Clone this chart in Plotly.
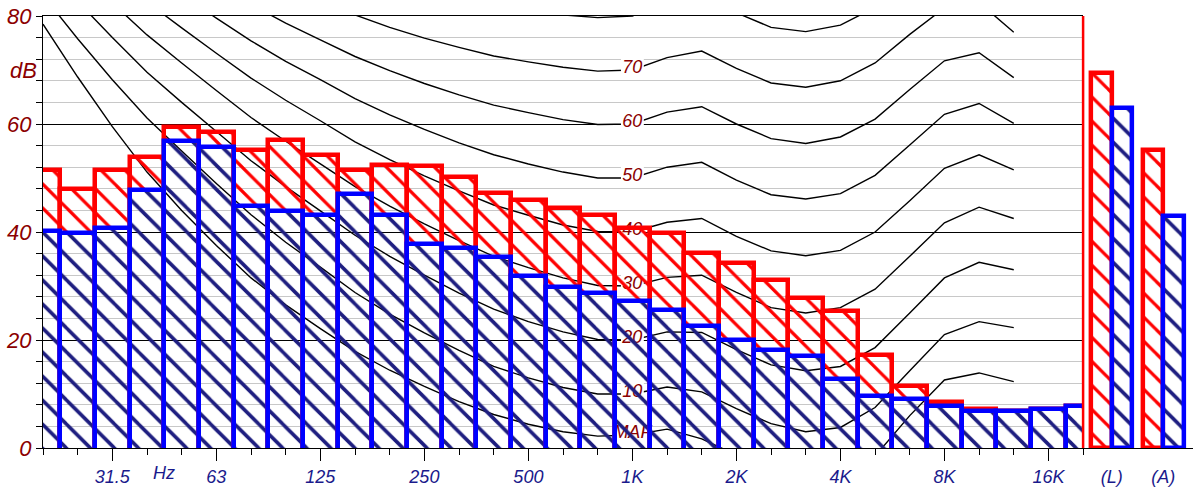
import plotly.graph_objects as go

# ---------------- data ----------------
band_freqs = ["20", "25", "31.5", "40", "50", "63", "80", "100", "125", "160", "200", "250",
              "315", "400", "500", "630", "800", "1K", "1.25K", "1.6K", "2K", "2.5K", "3.15K",
              "4K", "5K", "6.3K", "8K", "10K", "12.5K", "16K", "20K"]
red_db = [51.5, 47.9, 51.5, 53.9, 59.5, 58.5, 55.2, 57.0, 54.2, 51.5, 52.4, 52.2, 50.2, 47.3,
          45.9, 44.4, 43.2, 40.8, 39.9, 36.1, 34.2, 31.2, 27.8, 25.3, 17.3, 11.4, 8.6, 7.2,
          6.9, 7.2, 7.8]
blue_db = [40.1, 39.8, 40.8, 47.7, 56.9, 55.7, 44.8, 43.9, 43.2, 47.0, 43.2, 37.8, 37.0, 35.4,
           31.8, 29.9, 28.7, 27.2, 25.5, 22.6, 20.0, 18.2, 17.1, 12.7, 9.7, 9.0, 7.7, 6.9,
           6.9, 7.2, 7.8]
total_labels = ["(L)", "(A)"]
red_total = [69.4, 55.2]
blue_total = [63.0, 42.9]
tick_labels = ["31.5", "63", "125", "250", "500", "1K", "2K", "4K", "8K", "16K"]

# equal-loudness contours, 20 Hz .. 12.5 kHz (first 29 bands)
maf = [78.5, 68.7, 59.5, 51.1, 44.0, 37.5, 31.5, 26.5, 22.1, 17.9, 14.4, 11.4, 8.6, 6.2, 4.4,
       3.0, 2.2, 2.4, 3.5, 1.7, -1.3, -4.2, -6.0, -5.4, -1.5, 6.0, 12.6, 13.9, 12.3]
phon10 = [83.8, 75.8, 68.2, 61.1, 55.0, 49.0, 43.2, 38.1, 33.5, 28.8, 24.8, 21.3, 18.1, 15.1,
          13.0, 11.2, 10.0, 10.0, 11.3, 10.4, 7.3, 4.5, 3.0, 3.8, 7.5, 14.3, 21.0, 23.4, 22.3]
phon20 = [89.6, 82.7, 76.0, 69.6, 64.0, 58.6, 53.2, 48.4, 43.9, 39.4, 35.5, 32.0, 28.7, 25.7,
          23.4, 21.5, 20.1, 20.0, 21.5, 21.4, 18.2, 15.4, 14.3, 15.1, 18.6, 25.0, 31.5, 34.4, 33.0]
phon30 = [94.8, 88.5, 82.4, 76.5, 71.3, 66.2, 61.2, 56.8, 52.6, 48.4, 44.8, 41.5, 38.4, 35.5,
          33.4, 31.5, 30.1, 30.0, 31.6, 32.0, 28.8, 26.0, 25.0, 26.0, 29.4, 35.5, 41.7, 44.6, 42.5]
phon40 = [99.9, 93.9, 88.2, 82.6, 77.8, 73.1, 68.5, 64.4, 60.6, 56.7, 53.4, 50.4, 47.6, 45.0,
          43.1, 41.3, 40.1, 40.0, 41.8, 42.5, 39.2, 36.5, 35.6, 36.6, 40.0, 45.8, 51.8, 54.3, 51.5]
phon50 = [104.7, 99.1, 93.7, 88.5, 84.0, 79.6, 75.4, 71.6, 68.2, 64.7, 61.7, 59.0, 56.5, 54.3,
          52.6, 51.1, 50.0, 50.0, 52.0, 52.9, 49.6, 46.9, 46.1, 47.1, 50.5, 56.1, 61.8, 63.8, 60.1]
phon60 = [109.5, 104.2, 99.1, 94.2, 90.0, 85.9, 82.1, 78.7, 75.6, 72.5, 69.9, 67.5, 65.4, 63.5,
          62.1, 60.8, 59.9, 60.0, 62.2, 63.2, 60.0, 57.3, 56.4, 57.6, 60.9, 66.4, 71.7, 73.2, 68.6]
phon70 = [114.3, 109.2, 104.4, 99.8, 95.9, 92.2, 88.6, 85.6, 82.9, 80.2, 77.9, 75.9, 74.2, 72.6,
          71.5, 70.5, 69.8, 70.0, 72.3, 73.5, 70.3, 67.6, 66.8, 68.0, 71.3, 76.6, 81.5, 82.5, 77.0]
phon80 = [119.0, 114.2, 109.6, 105.3, 101.7, 98.4, 95.2, 92.5, 90.1, 87.8, 85.9, 84.3, 82.9, 81.7,
          80.9, 80.2, 79.7, 80.0, 82.5, 83.7, 80.6, 77.9, 77.1, 78.3, 81.6, 86.8, 91.4, 91.7, 85.4]
contours = [maf, phon10, phon20, phon30, phon40, phon50, phon60, phon70, phon80]
contour_labels = ["MAF", "10", "20", "30", "40", "50", "60", "70", ""]

# ---------------- styles ----------------
RED = "#FF0000"
BLUE = "#0000FF"
NAVY_HATCH = "#1E1E80"
DARK_RED = "#8B0000"
LABEL_NAVY = "#1A1A8C"
FONT = "Liberation Sans"
CLEAR = "rgba(0,0,0,0)"
HATCH = 17
RED_SOLID = 0.19
NAVY_SOLID = 0.21
OUTLINE_W = 4.5

band_x = list(range(len(band_freqs)))
red_gap = [max(r - b, 0) for r, b in zip(red_db, blue_db)]
below = 5  # outline bars start below the axis so their bottom edge is hidden

fig = go.Figure()

# red hatch between blue top and red top
fig.add_trace(go.Bar(
    x=band_x, y=red_gap, base=blue_db, width=1, xaxis="x", yaxis="y",
    marker=dict(color=CLEAR, line=dict(width=0),
                pattern=dict(shape="\\", size=HATCH, solidity=RED_SOLID, fgcolor=RED,
                             fgopacity=1)),
    hoverinfo="skip"))
# navy hatch under blue top
fig.add_trace(go.Bar(
    x=band_x, y=blue_db, width=1, xaxis="x", yaxis="y",
    marker=dict(color=CLEAR, line=dict(width=0),
                pattern=dict(shape="\\", size=HATCH, solidity=NAVY_SOLID, fgcolor=NAVY_HATCH,
                             fgopacity=1)),
    hoverinfo="skip"))
# outlines
fig.add_trace(go.Bar(
    x=band_x, y=[v + below for v in red_db], base=[-below] * len(red_db), width=1,
    xaxis="x", yaxis="y",
    marker=dict(color=CLEAR, line=dict(width=OUTLINE_W, color=RED)), hoverinfo="skip"))
fig.add_trace(go.Bar(
    x=band_x, y=[v + below for v in blue_db], base=[-below] * len(blue_db), width=1,
    xaxis="x", yaxis="y",
    marker=dict(color=CLEAR, line=dict(width=OUTLINE_W, color=BLUE)), hoverinfo="skip"))

# overall levels (L) and (A)
total_x = list(range(len(total_labels)))
fig.add_trace(go.Bar(
    x=total_x, y=red_total, width=0.4, offset=-0.4, xaxis="x2", yaxis="y2",
    marker=dict(color=CLEAR, line=dict(width=OUTLINE_W, color=RED),
                pattern=dict(shape="\\", size=HATCH, solidity=RED_SOLID, fgcolor=RED,
                             fgopacity=1)),
    hoverinfo="skip"))
fig.add_trace(go.Bar(
    x=total_x, y=blue_total, width=0.4, offset=0, xaxis="x2", yaxis="y2",
    marker=dict(color=CLEAR, line=dict(width=OUTLINE_W, color=BLUE),
                pattern=dict(shape="\\", size=HATCH, solidity=NAVY_SOLID, fgcolor=NAVY_HATCH,
                             fgopacity=1)),
    hoverinfo="skip"))

# contour curves (drawn between the grid and the bars)
shapes = []
one_k = band_freqs.index("1K")
for vals, lab in zip(contours, contour_labels):
    path = "M " + " L ".join(f"{x},{y}" for x, y in zip(band_x, vals))
    shapes.append(dict(type="path", xref="x", yref="y", path=path,
                       line=dict(color="black", width=1.4), layer="between"))
for vals, lab in zip(contours, contour_labels):
    if not lab:
        continue
    hw = 0.55 if len(lab) > 2 else 0.33
    yc = vals[one_k] + 1.0
    shapes.append(dict(type="rect", xref="x", yref="y", x0=one_k - hw, x1=one_k + hw,
                       y0=yc - 1.5, y1=yc + 1.5, fillcolor="white", line=dict(width=0),
                       layer="between",
                       label=dict(text=f"<i>{lab}</i>", textposition="middle center", padding=0,
                                  font=dict(family=FONT, size=18, color=DARK_RED))))

split = 30 * 34.67 / 1150
shapes.append(dict(type="line", xref="paper", yref="y", x0=split, x1=split, y0=0, y1=80,
                   line=dict(color=RED, width=2.5), layer="above"))

fig.update_layout(
    width=1195, height=491,
    margin=dict(l=43, r=2, t=16, b=43),
    paper_bgcolor="white", plot_bgcolor="white",
    barmode="overlay", bargap=0, showlegend=False,
    font=dict(family=FONT),
    shapes=shapes,
    xaxis=dict(domain=[0, split], range=[0, 30], anchor="y",
               tickmode="array",
               tickvals=[band_freqs.index(t) for t in tick_labels], ticktext=tick_labels,
               ticks="outside", ticklen=12, tickwidth=1, tickcolor="black",
               showline=True, linecolor="black", linewidth=1, mirror=True,
               showgrid=False, zeroline=False,
               tickfont=dict(family=FONT, size=18, color=LABEL_NAVY, style="italic"),
               minor=dict(tickmode="linear", tick0=0, dtick=1, ticks="outside", ticklen=6,
                          tickwidth=1, tickcolor="black", showgrid=False)),
    yaxis=dict(domain=[0, 1], range=[0, 80], anchor="x",
               tickmode="linear", tick0=0, dtick=20,
               ticks="outside", ticklen=6, tickwidth=1, tickcolor="black",
               showline=True, linecolor="black", linewidth=1,
               showgrid=True, gridcolor="black", gridwidth=1, zeroline=False,
               tickfont=dict(family=FONT, size=22, color=DARK_RED, style="italic"),
               minor=dict(tick0=0, dtick=4, ticks="outside", ticklen=6, tickwidth=1,
                          tickcolor="black", showgrid=True, gridcolor="#C8C8C8", gridwidth=1)),
    xaxis2=dict(domain=[split, 1], range=[-0.556, 1.576], anchor="y2",
                tickmode="array", tickvals=total_x, ticktext=total_labels,
                ticks="outside", ticklen=12, tickcolor=CLEAR,
                showline=True, linecolor="black", linewidth=1,
                showgrid=False, zeroline=False,
                tickfont=dict(family=FONT, size=18, color=LABEL_NAVY, style="italic")),
    yaxis2=dict(domain=[0, 1], range=[0, 80], anchor="x2", visible=False),
    annotations=[
        dict(text="dB", xref="paper", yref="y", x=-0.017, y=70, xanchor="center",
             yanchor="middle", showarrow=False,
             font=dict(family=FONT, size=22, color=DARK_RED, style="italic")),
        dict(text="Hz", xref="x", yref="paper", x=3.5, y=0, xanchor="center",
             yanchor="top", yshift=-13, showarrow=False,
             font=dict(family=FONT, size=18, color=LABEL_NAVY, style="italic")),
    ],
)

fig.write_html("out.html", config={"displayModeBar": False},
               post_script="document.body.style.margin='0';document.body.style.overflow='hidden';")
